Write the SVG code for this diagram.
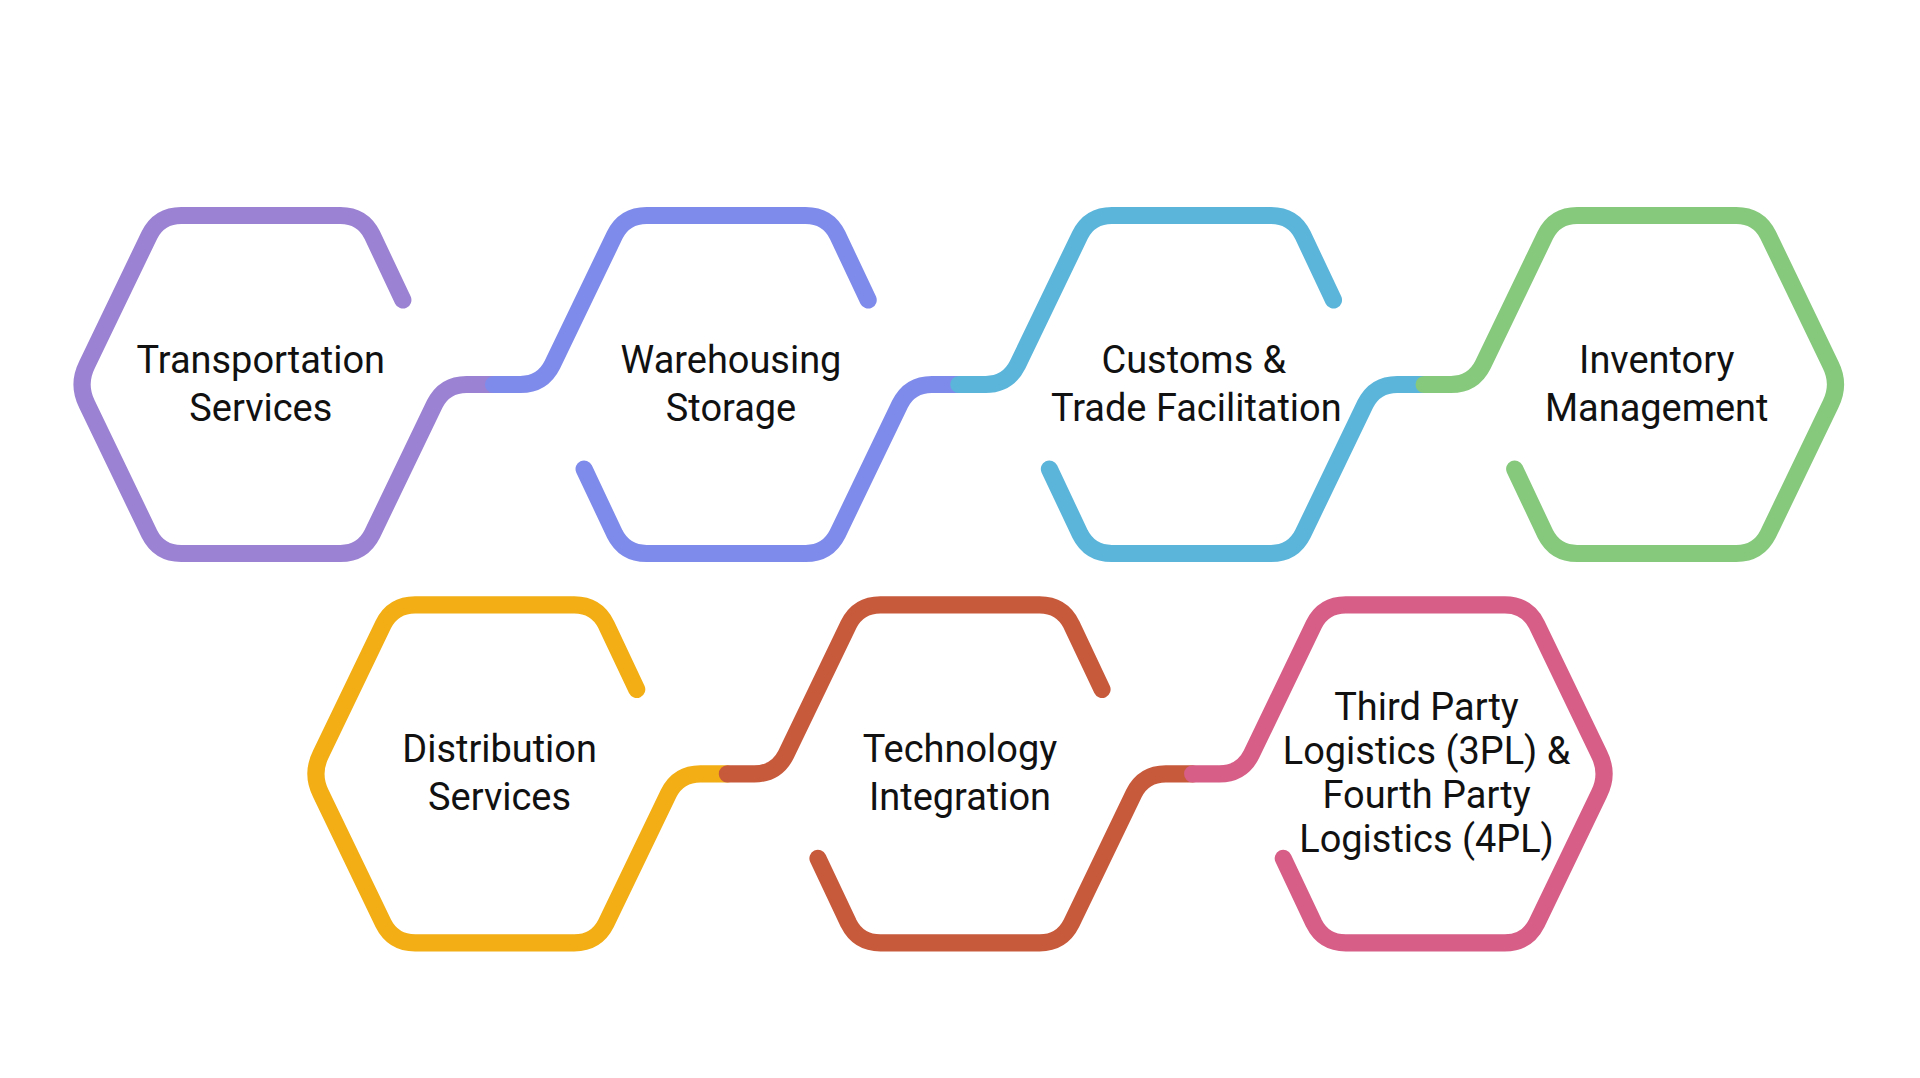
<svg xmlns="http://www.w3.org/2000/svg" width="1920" height="1078" viewBox="0 0 1920 1078">
<style>
.s{fill:none;stroke-width:14;stroke-linecap:round;stroke-linejoin:round}
.t{font-family:Roboto,"Liberation Sans",sans-serif;font-size:31px;fill:#111;text-anchor:middle;dominant-baseline:central}
</style>
<rect width="1920" height="1078" fill="#fff"/>
<g transform="scale(1.22449)">
<g id="connectors">
<path class="s" stroke="#9B82D2" d="M329,245 L304,192 Q296,176 278,176 L148,176 Q130,176 122,192 L71,298 Q63,314 71,330 L122,436 Q130,452 148,452 L278,452 Q296,452 304,436 L355,330 Q363,314 381,314 L403,314"/>
<path class="s" stroke="#7F8BEA" d="M403,314 L425,314 Q443,314 451,298 L502,192 Q510,176 528,176 L658,176 Q676,176 684,192 L709,245 M477,383 L502,436 Q510,452 528,452 L658,452 Q676,452 684,436 L735,330 Q743,314 761,314 L783,314"/>
<path class="s" stroke="#5BB5DB" d="M783,314 L805,314 Q823,314 831,298 L882,192 Q890,176 908,176 L1038,176 Q1056,176 1064,192 L1089,245 M857,383 L882,436 Q890,452 908,452 L1038,452 Q1056,452 1064,436 L1115,330 Q1123,314 1141,314 L1163,314"/>
<path class="s" stroke="#86C97C" d="M1163,314 L1185,314 Q1203,314 1211,298 L1262,192 Q1270,176 1288,176 L1418,176 Q1436,176 1444,192 L1495,298 Q1503,314 1495,330 L1444,436 Q1436,452 1418,452 L1288,452 Q1270,452 1262,436 L1237,383"/>
<path class="s" stroke="#F2AE14" d="M520,563 L495,510 Q487,494 469,494 L339,494 Q321,494 313,510 L262,616 Q254,632 262,648 L313,754 Q321,770 339,770 L469,770 Q487,770 495,754 L546,648 Q554,632 572,632 L594,632"/>
<path class="s" stroke="#C85A3C" d="M594,632 L616,632 Q634,632 642,616 L693,510 Q701,494 719,494 L849,494 Q867,494 875,510 L900,563 M668,701 L693,754 Q701,770 719,770 L849,770 Q867,770 875,754 L926,648 Q934,632 952,632 L974,632"/>
<path class="s" stroke="#D65E87" d="M974,632 L996,632 Q1014,632 1022,616 L1073,510 Q1081,494 1099,494 L1229,494 Q1247,494 1255,510 L1306,616 Q1314,632 1306,648 L1255,754 Q1247,770 1229,770 L1099,770 Q1081,770 1073,754 L1048,701"/>
</g>
<g id="n1"><text class="t" x="213" y="294">Transportation</text><text class="t" x="213" y="333">Services</text></g>
<g id="n2"><text class="t" x="597" y="294">Warehousing</text><text class="t" x="597" y="333">Storage</text></g>
<g id="n3"><text class="t" x="975" y="294">Customs &amp;</text><text class="t" x="977" y="333">Trade Facilitation</text></g>
<g id="n4"><text class="t" x="1353" y="294">Inventory</text><text class="t" x="1353" y="333">Management</text></g>
<g id="n5"><text class="t" x="408" y="612">Distribution</text><text class="t" x="408" y="651">Services</text></g>
<g id="n6"><text class="t" x="784" y="612">Technology</text><text class="t" x="784" y="651">Integration</text></g>
<g id="n7"><text class="t" x="1165" y="577">Third Party</text><text class="t" x="1165" y="613">Logistics (3PL) &amp;</text><text class="t" x="1165" y="649">Fourth Party</text><text class="t" x="1165" y="685">Logistics (4PL)</text></g>
</g>
</svg>
